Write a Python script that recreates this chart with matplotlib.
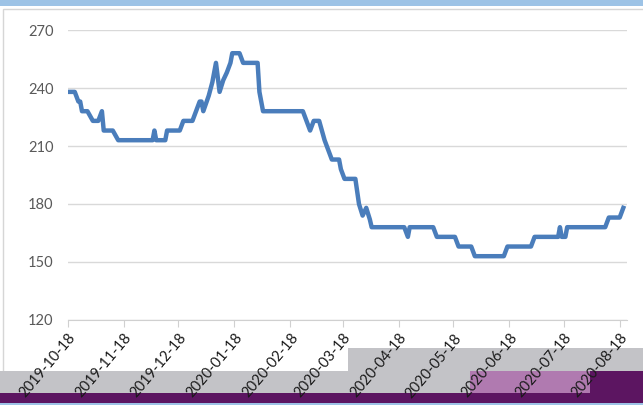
import numpy as np
import pandas as pd
import matplotlib
matplotlib.use("Agg")
import matplotlib.pyplot as plt
from matplotlib.patches import Rectangle

# price turning points
dates = ["2019-10-18", "2019-10-22", "2019-10-24", "2019-10-25", "2019-10-26", "2019-10-29",
         "2019-11-01", "2019-11-04", "2019-11-06", "2019-11-07", "2019-11-12", "2019-11-15",
         "2019-12-04", "2019-12-05", "2019-12-06", "2019-12-11", "2019-12-12", "2019-12-19",
         "2019-12-21", "2019-12-26", "2019-12-28", "2019-12-30", "2019-12-31", "2020-01-01",
         "2020-01-04", "2020-01-06", "2020-01-08", "2020-01-10", "2020-01-12", "2020-01-14",
         "2020-01-16", "2020-01-17", "2020-01-21", "2020-01-23", "2020-01-31", "2020-02-01",
         "2020-02-03", "2020-02-25", "2020-02-27", "2020-02-29", "2020-03-02", "2020-03-05",
         "2020-03-08", "2020-03-10", "2020-03-12", "2020-03-16", "2020-03-17", "2020-03-19",
         "2020-03-25", "2020-03-27", "2020-03-29", "2020-03-31", "2020-04-02", "2020-04-03",
         "2020-04-21", "2020-04-23", "2020-04-24", "2020-05-07", "2020-05-09", "2020-05-19",
         "2020-05-21", "2020-05-28", "2020-05-30", "2020-06-15", "2020-06-17", "2020-06-30",
         "2020-07-02", "2020-07-15", "2020-07-16", "2020-07-17", "2020-07-19", "2020-07-20",
         "2020-08-10", "2020-08-12", "2020-08-18", "2020-08-20"]
prices = [238, 238, 233, 233, 228, 228,
          223, 223, 228, 218, 218, 213,
          213, 218, 213, 213, 218, 218,
          223, 223, 228, 233, 233, 228,
          236, 243, 253, 238, 244, 248,
          253, 258, 258, 253, 253, 238,
          228, 228, 223, 218, 223, 223,
          213, 208, 203, 203, 198, 193,
          193, 180, 174, 178, 172, 168,
          168, 163, 168, 168, 163, 163,
          158, 158, 153, 153, 158, 158,
          163, 163, 168, 163, 163, 168,
          168, 173, 173, 178]

tick_labels = ["2019-10-18", "2019-11-18", "2019-12-18", "2020-01-18", "2020-02-18",
               "2020-03-18", "2020-04-18", "2020-05-18", "2020-06-18", "2020-07-18",
               "2020-08-18"]
y_ticks = [120, 150, 180, 210, 240, 270]

plt.rcParams['font.family'] = ['Lato', 'DejaVu Sans']

fig = plt.figure(figsize=(6.43, 4.05), dpi=100)
ax = fig.add_axes([0.105, 0.2099, 0.870, 0.716])
ax.set_facecolor('none')

x = pd.to_datetime(dates)
ax.plot(x, prices, color='#4a7dbb', linewidth=3.2, solid_joinstyle='round', zorder=3)

ticks = pd.to_datetime(tick_labels)
ax.set_xlim(ticks[0], pd.Timestamp("2020-08-22"))
ax.set_ylim(y_ticks[0], y_ticks[-1])
ax.set_yticks(y_ticks)
ax.set_yticklabels([str(v) for v in y_ticks], color='#595959', fontsize=10.5)
ax.set_xticks(ticks)
ax.set_xticklabels(tick_labels, rotation=50, ha='right', va='top',
                   rotation_mode='anchor', color='#1a1a1a', fontsize=10.5)

ax.grid(axis='y', color='#d9d9d9', linewidth=1.0)
ax.set_axisbelow(True)
for side in ['left', 'right', 'top']:
    ax.spines[side].set_visible(False)
ax.spines['bottom'].set_color('#d0d0d0')
ax.tick_params(axis='y', length=0, pad=10)
ax.tick_params(axis='x', length=5, color='#d0d0d0', pad=3)

# frame and the strips seen at the top and bottom of the picture
H = 405.0
W = 643.0
def box(x0, y0, x1, y1, color, z=-5, fill=True, lw=0):
    fig.add_artist(Rectangle((x0 / W, 1 - y1 / H), (x1 - x0) / W, (y1 - y0) / H,
                             transform=fig.transFigure, facecolor=color if fill else 'none',
                             edgecolor=color if not fill else 'none', linewidth=lw, zorder=z))

box(3, 9, 660, 420, '#d6d6d6', z=-6, fill=False, lw=1.0)
box(0, 0, W, 6, '#9dc3e6')
box(0, 371, W, 393, '#c3c3c7')
box(348, 348, W, 371, '#c3c3c7')
box(470, 371, 590, 393, '#b07ab0')
box(590, 371, W, 393, '#5c1561')
box(0, 393, W, 403, '#5c1561')
box(0, 403, W, H, '#9dc3e6')

fig.savefig("out.png", dpi=100)
